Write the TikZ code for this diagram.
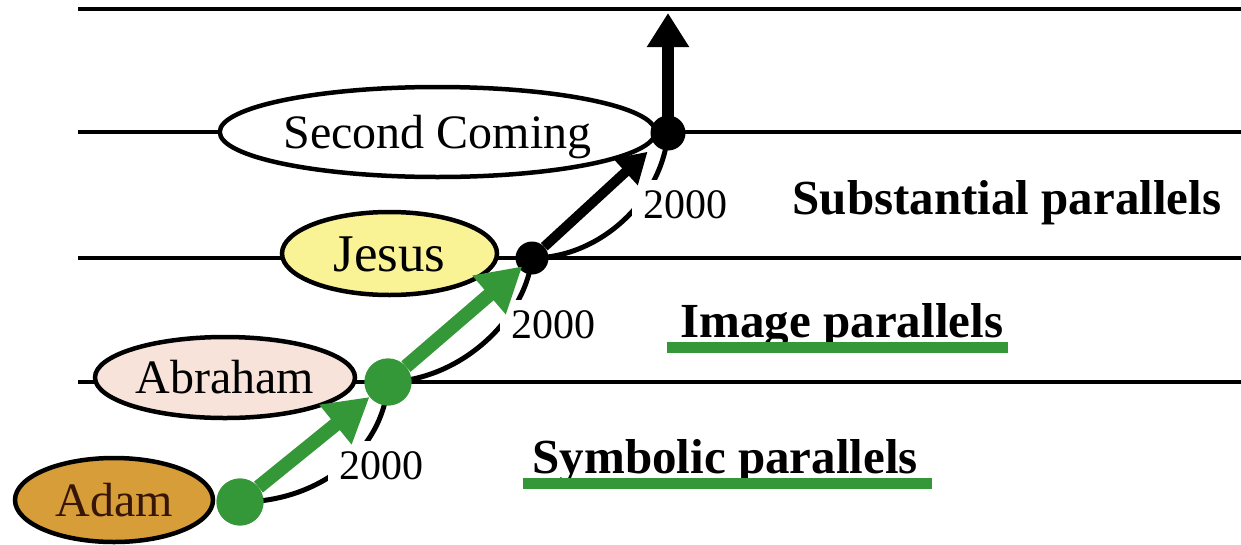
\documentclass[tikz,border=0pt]{standalone}
\usepackage{fontspec}
\setmainfont{Liberation Serif}
\usetikzlibrary{shapes.geometric,arrows.meta}
\definecolor{pgreen}{RGB}{52,152,56}
\definecolor{adamfill}{RGB}{214,157,56}
\definecolor{adamtext}{RGB}{55,22,8}
\definecolor{abrfill}{RGB}{247,227,218}
\definecolor{jesfill}{RGB}{250,243,150}
\begin{document}
\begin{tikzpicture}[x=1pt,y=-1pt,
  hline/.style={line width=4.5pt},
  person/.style={ellipse,draw,line width=4.5pt,inner sep=0pt,text height=32pt,text depth=0pt,font=\fontsize{48}{50}\selectfont},
  yearlbl/.style={fill=white,inner sep=11pt,font=\fontsize{42}{44}\selectfont},
  arc/.style={line width=5pt},
  gdot/.style={circle,fill=pgreen,inner sep=0pt,minimum size=47pt},
  bdot/.style={circle,fill=black,inner sep=0pt},
  garrow/.style={line width=14pt,pgreen,-{Triangle[width=48pt,length=44pt]}},
  barrow/.style={line width=10pt,black,-{Triangle[width=34pt,length=30pt]}},
  varrow/.style={line width=12pt,black,-{Triangle[width=40pt,length=34pt]}},
  heading/.style={anchor=base west,font=\bfseries\fontsize{49}{51}\selectfont},
  uline/.style={line width=11pt,pgreen}
]
\useasboundingbox (0,0) rectangle (1241,544);

% horizontal lines
\coordinate (l0s) at (78,9);   \coordinate (l0e) at (1241,9);
\coordinate (l1s) at (78,132); \coordinate (l1e) at (1241,132);
\coordinate (l2s) at (78,258); \coordinate (l2e) at (1241,258);
\coordinate (l3s) at (78,382); \coordinate (l3e) at (1241,382);
\draw[hline] (l0s) -- (l0e);
\draw[hline] (l1s) -- (l1e);
\draw[hline] (l2s) -- (l2e);
\draw[hline] (l3s) -- (l3e);

% dot positions
\coordinate (adamc) at (240,502);
\coordinate (abrc) at (388,382);
\coordinate (jesc) at (532,258);
\coordinate (scc) at (668,133);

% 2000 arcs
\draw[arc] (adamc) .. controls (320,502) and (384,450) .. (abrc);
\draw[arc] (abrc) .. controls (460,380) and (525,320) .. (jesc);
\draw[arc] (jesc) .. controls (600,258) and (662,200) .. (scc);
\node[yearlbl] (y1) at (381,466) {2000};
\node[yearlbl] (y2) at (553,325) {2000};
\node[yearlbl] (y3) at (685,205) {2000};

% persons
\node[person,fill=white,minimum width=384pt,minimum height=90pt] (sc) at (437.5,132) {Second Coming};
\node[person,fill=jesfill,minimum width=215pt,minimum height=83pt,text height=35pt,font=\fontsize{53}{55}\selectfont] (jesus) at (389.5,253.5) {Jesus};
\node[person,fill=abrfill,minimum width=260pt,minimum height=81pt] (abraham) at (225,377.5) {Abraham};
\node[person,fill=adamfill,text=adamtext,minimum width=198pt,minimum height=84pt] (adam) at (114,500) {Adam};

% black dots and arrows
\node[bdot,minimum size=33pt] (jesdot) at (jesc) {};
\node[bdot,minimum size=35pt] (scdot) at (scc) {};
\coordinate (top) at (668,13);
\draw[barrow,shorten >=10pt] (jesdot) -- (scdot);
\draw[varrow] (scdot.center) -- (top);

% green arrows and dots
\node[gdot] (adamdot) at (adamc) {};
\node[gdot] (abrdot) at (abrc) {};
\draw[garrow] (adamdot) -- (abrdot);
\draw[garrow,shorten >=-4pt] (abrdot) -- (jesdot);
\node[gdot] at (adamc) {};
\node[gdot] at (abrc) {};

% headings
\node[heading] (subst) at (789,214) {Substantial parallels};
\node[heading] (image) at (677,337) {Image parallels};
\node[heading] (symb) at (529,473) {Symbolic parallels};
\coordinate (u1s) at (667,347.5); \coordinate (u1e) at (1008,347.5);
\coordinate (u2s) at (523,483);   \coordinate (u2e) at (932,483);
\draw[uline] (u1s) -- (u1e);
\draw[uline] (u2s) -- (u2e);
\end{tikzpicture}
\end{document}
